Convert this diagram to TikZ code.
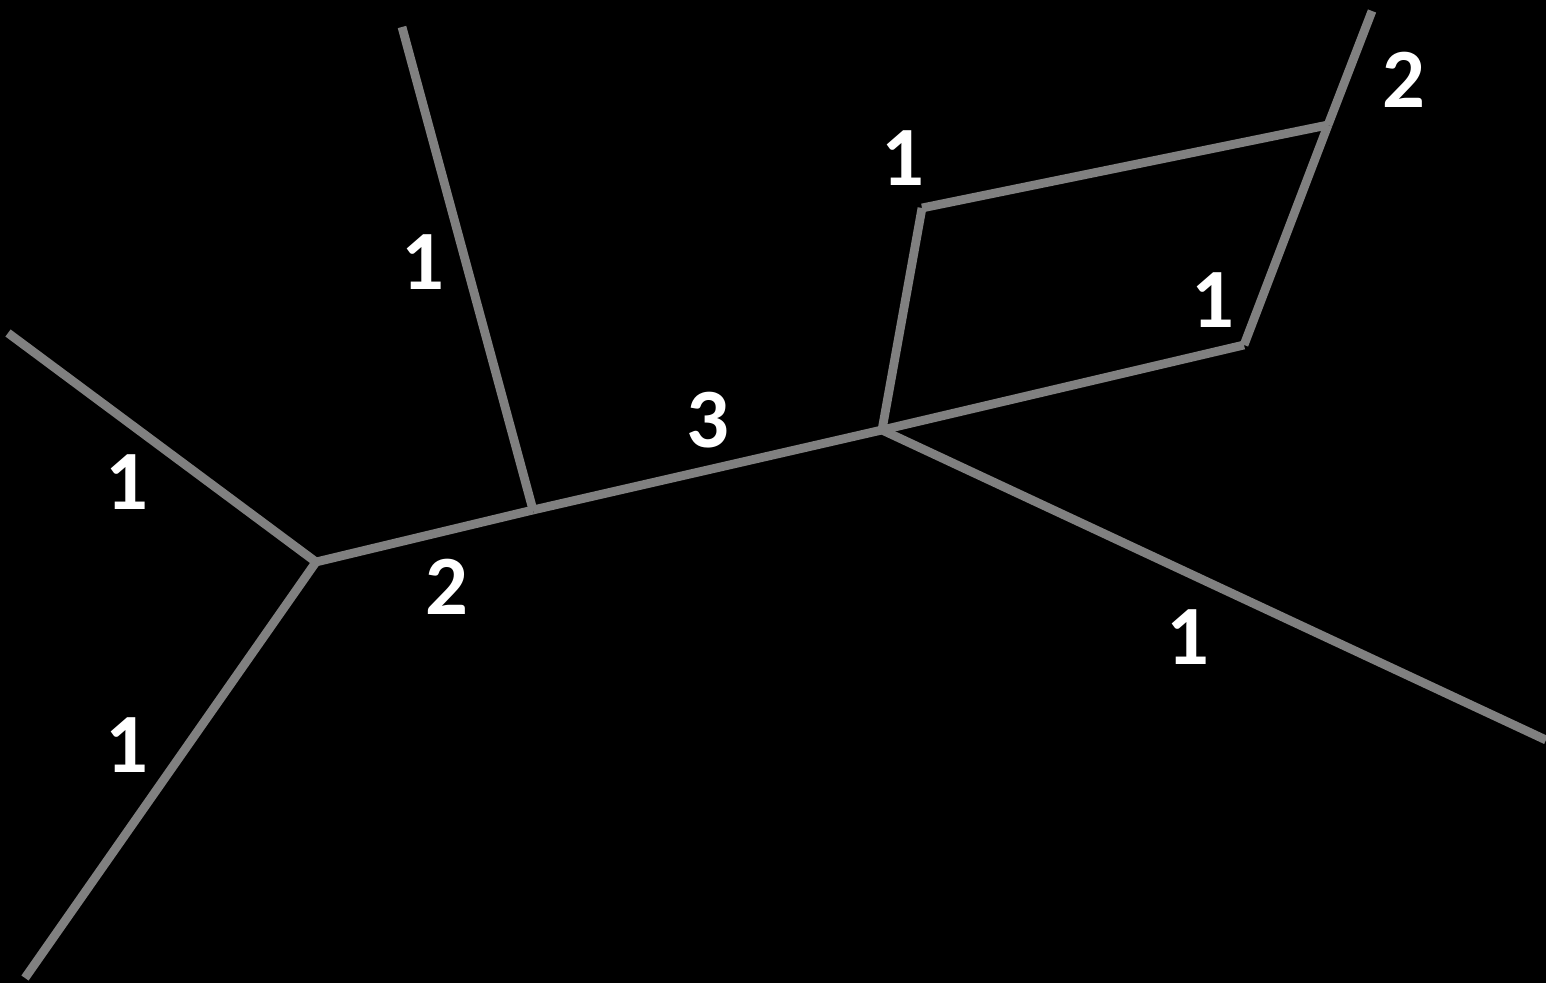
\documentclass[tikz,border=0pt]{standalone}
\usepackage{fontspec}
\setmainfont{Carlito}
\definecolor{edgegray}{RGB}{128,128,128}
\begin{document}
\begin{tikzpicture}[
    x=0.01cm, y=-0.01cm,
    edge/.style={draw=edgegray, line width=2.5pt},
    weight/.style={text=white, inner sep=0pt, font=\bfseries\fontsize{24}{28}\selectfont}
]

\fill[black] (0,0) rectangle (1546,983);
\useasboundingbox (0,0) rectangle (1546,983);

% vertices
\coordinate (leftend) at (8,333);
\coordinate (leftjoin) at (316,562);
\coordinate (bottomend) at (25,978);
\coordinate (midjoin) at (533,510);
\coordinate (topend) at (402,27);
\coordinate (hub) at (882,430);
\coordinate (rightend) at (1546,740);
\coordinate (quadleft) at (922,208);
\coordinate (quadtop) at (1328,125);
\coordinate (cornerend) at (1372,11);
\coordinate (quadright) at (1244,345);

% edges
\draw[edge] (leftend) -- (leftjoin);
\draw[edge] (leftjoin) -- (bottomend);
\draw[edge] (leftjoin) -- (midjoin);
\draw[edge] (midjoin) -- (topend);
\draw[edge] (midjoin) -- (hub);
\draw[edge] (hub) -- (rightend);
\draw[edge] (hub) -- (quadleft);
\draw[edge] (quadleft) -- (quadtop);
\draw[edge] (quadtop) -- (cornerend);
\draw[edge] (quadtop) -- (quadright);
\draw[edge] (quadright) -- (hub);

% weights
\node[weight] (w1) at (127,482) {1};
\node[weight] (w2) at (127,745) {1};
\node[weight] (w3) at (447,587) {2};
\node[weight] (w4) at (423,262) {1};
\node[weight] (w5) at (708,420) {3};
\node[weight] (w6) at (1188,637) {1};
\node[weight] (w7) at (903,158) {1};
\node[weight] (w8) at (1404,80) {2};
\node[weight] (w9) at (1213,300) {1};

\end{tikzpicture}
\end{document}
